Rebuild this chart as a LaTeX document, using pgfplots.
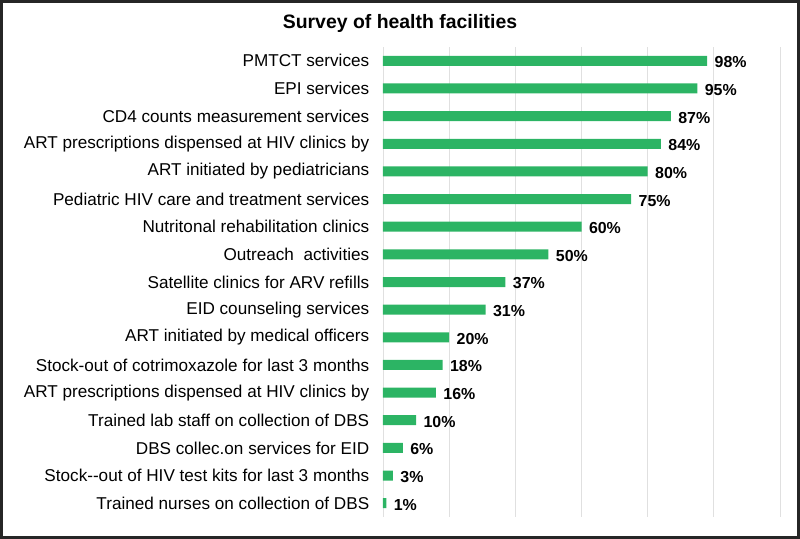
\documentclass[border=0pt]{standalone}
\usepackage{fontspec}
\setmainfont{Liberation Sans}
\usepackage{pgfplots}
\pgfplotsset{compat=1.18}
\definecolor{bargreen}{RGB}{44,180,100}
\begin{document}
\begin{tikzpicture}
% frame and page size
\draw[line width=3bp, black!85] (1.5bp,1.5bp) rectangle (798.5bp,537.5bp);
\node[font=\fontsize{19.5}{22}\selectfont\bfseries] at (400bp,516bp) {Survey of health facilities};
\begin{axis}[
    at={(383bp,22bp)}, anchor=south west,
    scale only axis,
    width=397bp, height=470bp,
    xbar, bar width=10bp,
    xmin=0, xmax=120,
    ymin=-0.5, ymax=16.5, y dir=reverse,
    xtick={0,20,...,120}, xticklabels={},
    ytick=data,
    yticklabels={PMTCT services, EPI services, CD4 counts measurement services,
        ART prescriptions dispensed at HIV clinics by, ART initiated by pediatricians,
        Pediatric HIV care and treatment services, Nutritonal rehabilitation clinics,
        Outreach\ \ activities, Satellite clinics for ARV refills, EID counseling services,
        ART initiated by medical officers, Stock-out of cotrimoxazole for last 3 months,
        ART prescriptions dispensed at HIV clinics by, Trained lab staff on collection of DBS,
        DBS collec.on services for EID, Stock{-}{-}out of HIV test kits for last 3 months,
        Trained nurses on collection of DBS},
    yticklabel style={font=\fontsize{17.2}{19}\selectfont, xshift=-6bp},
    axis line style={draw=none},
    tick style={draw=none},
    xmajorgrids, major grid style={black!12, line width=0.8bp},
    point meta=x,
    /pgf/number format/assume math mode=true,
    nodes near coords={\pgfmathprintnumber{\pgfplotspointmeta}\%},
    every node near coord/.append style={font=\fontsize{16}{18}\selectfont\bfseries, black, xshift=4bp, yshift=-1.5bp},
]
\addplot[fill=bargreen, draw=none] coordinates {
    (98,0) (95,1) (87,2) (84,3) (80,4) (75,5) (60,6) (50,7) (37,8)
    (31,9) (20,10) (18,11) (16,12) (10,13) (6,14) (3,15) (1,16)
};
\end{axis}
\end{tikzpicture}
\end{document}
